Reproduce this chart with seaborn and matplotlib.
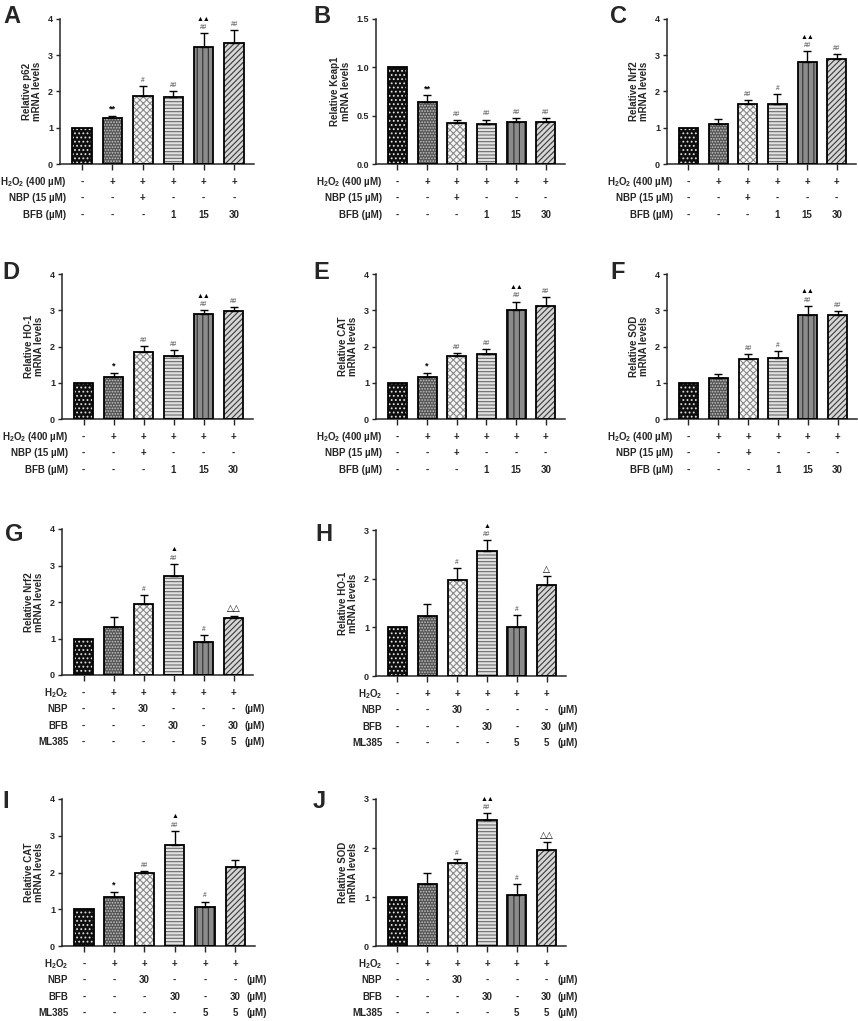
import numpy as np
import pandas as pd
import matplotlib.pyplot as plt
import seaborn as sns
from matplotlib.patches import Rectangle

sns.set_style("ticks")
plt.rcParams["font.family"] = ["Liberation Sans", "DejaVu Sans"]
plt.rcParams["font.weight"] = "bold"
plt.rcParams["mathtext.fontset"] = "custom"
plt.rcParams["mathtext.rm"] = "Liberation Sans:bold"
plt.rcParams["mathtext.bf"] = "Liberation Sans:bold"
plt.rcParams["mathtext.default"] = "rm"
plt.rcParams["hatch.linewidth"] = 0.8

# group names
groups = ["Con", "H2O2", "NBP", "BFB 1", "BFB 15", "BFB 30"]
groups2 = ["Con", "H2O2", "NBP 30", "BFB 30", "ML385", "BFB 30 + ML385"]

# panel A-F : mean and upper error
p62_mean = [1.00, 1.27, 1.87, 1.85, 3.24, 3.33]
p62_err = [0.00, 0.06, 0.27, 0.15, 0.36, 0.37]
keap1_mean = [1.00, 0.64, 0.42, 0.41, 0.43, 0.43]
keap1_err = [0.00, 0.07, 0.035, 0.05, 0.05, 0.045]
nrf2_mean = [1.00, 1.09, 1.66, 1.65, 2.82, 2.89]
nrf2_err = [0.00, 0.15, 0.10, 0.29, 0.29, 0.15]
ho1_mean = [1.00, 1.17, 1.85, 1.73, 2.90, 2.99]
ho1_err = [0.00, 0.10, 0.17, 0.16, 0.10, 0.11]
cat_mean = [1.00, 1.17, 1.73, 1.79, 3.01, 3.12]
cat_err = [0.00, 0.10, 0.09, 0.14, 0.23, 0.24]
sod_mean = [1.00, 1.13, 1.65, 1.67, 2.87, 2.87]
sod_err = [0.00, 0.11, 0.14, 0.20, 0.25, 0.10]

# panel G-J (ML385 experiments)
nrf2_ml_mean = [1.00, 1.32, 1.94, 2.71, 0.90, 1.56]
nrf2_ml_err = [0.00, 0.27, 0.26, 0.34, 0.20, 0.07]
ho1_ml_mean = [1.00, 1.24, 1.98, 2.57, 1.01, 1.88]
ho1_ml_err = [0.00, 0.24, 0.24, 0.22, 0.24, 0.17]
cat_ml_mean = [1.00, 1.33, 2.00, 2.75, 1.05, 2.14]
cat_ml_err = [0.00, 0.15, 0.05, 0.39, 0.16, 0.21]
sod_ml_mean = [1.00, 1.27, 1.70, 2.58, 1.04, 1.96]
sod_ml_err = [0.00, 0.22, 0.07, 0.13, 0.23, 0.17]

# significance marks (lower line and upper line)
p62_sig = ["", "**", "#", "##", "##", "##"]
keap1_sig = ["", "**", "##", "##", "##", "##"]
nrf2_sig = ["", "", "##", "#", "##", "##"]
ho1_sig = ["", "*", "##", "##", "##", "##"]
cat_sig = ["", "*", "##", "##", "##", "##"]
sod_sig = ["", "", "##", "#", "##", "##"]
bfb15_up = ["", "", "", "", "▲▲", ""]
no_up = ["", "", "", "", "", ""]
nrf2_ml_sig = ["", "", "#", "##", "#", "△△"]
ho1_ml_sig = ["", "", "#", "##", "#", "△"]
cat_ml_sig = ["", "*", "##", "##", "#", ""]
sod_ml_sig = ["", "", "#", "##", "#", "△△"]
bfb30_up1 = ["", "", "", "▲", "", ""]
bfb30_up2 = ["", "", "", "▲▲", "", ""]

# treatment tables
h2o2_row = ["-", "+", "+", "+", "+", "+"]
nbp_row = ["-", "-", "+", "-", "-", "-"]
bfb_row = ["-", "-", "-", "1", "15", "30"]
row_labels = [r"H$_2$O$_2$ (400 µM)", "NBP (15 µM)", "BFB (µM)"]

h2o2_row2 = ["-", "+", "+", "+", "+", "+"]
nbp_row2 = ["-", "-", "30", "-", "-", "-"]
bfb_row2 = ["-", "-", "-", "30", "-", "30"]
ml385_row2 = ["-", "-", "-", "-", "5", "5"]
row_labels2 = [r"H$_2$O$_2$", "NBP", "BFB", "ML385"]

# bar styles: face colour, hatch, hatch colour
faces = ["#0e0e0e", "#555555", "#f6f6f6", "#e2e2e2", "#8c8c8c", "#d6d6d6"]
hatches = ["....", "......", "xxxxx", "-----", "|||", "//////"]
hatch_cols = ["#dcdcdc", "#c4c4c4", "#8a8a8a", "#6a6a6a", "#2e2e2e", "#3a3a3a"]

W, H = 858, 1021
fig = plt.figure(figsize=(W / 100, H / 100), dpi=100)


def px_axes(left, top, right, bottom):
    return fig.add_axes([left / W, 1 - bottom / H, (right - left) / W, (bottom - top) / H])


def draw_panel(ax, names, means, errs, sig, up, ylabel, ymax, yticks, yfmt="{:.0f}"):
    df = pd.DataFrame({"group": names, "value": means})
    sns.barplot(data=df, x="group", y="value", hue="group", palette=faces,
                legend=False, errorbar=None, width=0.64, linewidth=0, ax=ax)
    for cont, hc, ht in zip(ax.containers, hatch_cols, hatches):
        for bar in cont:
            bar.set_edgecolor(hc)
            bar.set_hatch(ht)
            bar.set_linewidth(0)
            ax.add_patch(Rectangle(bar.get_xy(), bar.get_width(), bar.get_height(),
                                   fill=False, ec="black", lw=1.3, zorder=3))
    xs = np.arange(len(means))
    errs = np.array(errs)
    m = errs > 0
    ax.errorbar(xs[m], np.array(means)[m], yerr=[np.zeros(m.sum()), errs[m]],
                fmt="none", ecolor="black", elinewidth=1.0, capsize=3.2,
                capthick=1.0, zorder=2)
    for x, mu, e, s, u in zip(xs, means, errs, sig, up):
        top = mu + e
        if s:
            col = "#777777" if "#" in s else "black"
            fs = 4.8 if "#" in s else 6.5
            ax.annotate(s, (x, top), xytext=(0, 1.5), textcoords="offset points",
                        ha="center", va="bottom", fontsize=fs, color=col,
                        annotation_clip=False)
        if u:
            ax.annotate(u, (x, top), xytext=(0, 7.5), textcoords="offset points",
                        ha="center", va="bottom", fontsize=5, color="black",
                        annotation_clip=False)
    ax.set_xlim(-0.72, 5.65)
    ax.set_ylim(0, ymax)
    ax.set_yticks(yticks)
    ax.set_yticklabels([yfmt.format(t) for t in yticks])
    ax.set_xticks(xs)
    ax.set_xticklabels([])
    ax.set_xlabel("")
    ax.set_ylabel(ylabel, fontsize=7, fontweight="bold", labelpad=4, linespacing=1.05)
    for side in ["top", "right"]:
        ax.spines[side].set_visible(False)
    for side in ["left", "bottom"]:
        ax.spines[side].set_linewidth(1.1)
    ax.tick_params(axis="y", length=3, width=1, labelsize=6.5, pad=2)
    ax.tick_params(axis="x", length=4.5, width=1)


def draw_table(ax, rows, labels, units=None):
    for i, (row, lab) in enumerate(zip(rows, labels)):
        dy = -(18 + 16.3 * i) * 0.72
        ax.annotate(lab, (0, 0), xycoords="axes fraction", xytext=(4.5, dy),
                    textcoords="offset points", ha="right", va="center",
                    fontsize=7, fontweight="bold", annotation_clip=False)
        for x, val in enumerate(row):
            ax.annotate(val, (x, 0), xycoords=ax.get_xaxis_transform(), xytext=(0, dy),
                        textcoords="offset points", ha="center", va="center",
                        fontsize=7, fontweight="bold", annotation_clip=False)
        if units and units[i]:
            ax.annotate(units[i], (5.38, 0), xycoords=ax.get_xaxis_transform(),
                        xytext=(0, dy), textcoords="offset points", ha="left",
                        va="center", fontsize=7, fontweight="bold",
                        annotation_clip=False)


ticks4 = [0, 1, 2, 3, 4]
ticks3 = [0, 1, 2, 3]
table1 = [h2o2_row, nbp_row, bfb_row]
table2 = [h2o2_row2, nbp_row2, bfb_row2, ml385_row2]
units2 = ["", "(µM)", "(µM)", "(µM)"]

# row 1
ax = px_axes(60, 19, 254, 164)
draw_panel(ax, groups, p62_mean, p62_err, p62_sig, bfb15_up, "Relative p62\nmRNA levels", 4, ticks4)
draw_table(ax, table1, row_labels)
ax = px_axes(376, 19, 565, 164)
draw_panel(ax, groups, keap1_mean, keap1_err, keap1_sig, no_up, "Relative Keap1\nmRNA levels",
           1.5, [0, 0.5, 1.0, 1.5], "{:.1f}")
draw_table(ax, table1, row_labels)
ax = px_axes(667, 19, 856, 164)
draw_panel(ax, groups, nrf2_mean, nrf2_err, nrf2_sig, bfb15_up, "Relative Nrf2\nmRNA levels", 4, ticks4)
draw_table(ax, table1, row_labels)

# row 2
ax = px_axes(62, 274, 253, 419)
draw_panel(ax, groups, ho1_mean, ho1_err, ho1_sig, bfb15_up, "Relative HO-1\nmRNA levels", 4, ticks4)
draw_table(ax, table1, row_labels)
ax = px_axes(376, 274, 565, 419)
draw_panel(ax, groups, cat_mean, cat_err, cat_sig, bfb15_up, "Relative CAT\nmRNA levels", 4, ticks4)
draw_table(ax, table1, row_labels)
ax = px_axes(667, 274, 857, 419)
draw_panel(ax, groups, sod_mean, sod_err, sod_sig, bfb15_up, "Relative SOD\nmRNA levels", 4, ticks4)
draw_table(ax, table1, row_labels)

# row 3
ax = px_axes(62, 529, 253, 675)
draw_panel(ax, groups2, nrf2_ml_mean, nrf2_ml_err, nrf2_ml_sig, bfb30_up1, "Relative Nrf2\nmRNA levels", 4, ticks4)
draw_table(ax, table2, row_labels2, units2)
ax = px_axes(376, 530, 566, 676)
draw_panel(ax, groups2, ho1_ml_mean, ho1_ml_err, ho1_ml_sig, bfb30_up1, "Relative HO-1\nmRNA levels", 3, ticks3)
draw_table(ax, table2, row_labels2, units2)

# row 4
ax = px_axes(62, 799, 255, 946)
draw_panel(ax, groups2, cat_ml_mean, cat_ml_err, cat_ml_sig, bfb30_up1, "Relative CAT\nmRNA levels", 4, ticks4)
draw_table(ax, table2, row_labels2, units2)
ax = px_axes(376, 799, 566, 946)
draw_panel(ax, groups2, sod_ml_mean, sod_ml_err, sod_ml_sig, bfb30_up2, "Relative SOD\nmRNA levels", 3, ticks3)
draw_table(ax, table2, row_labels2, units2)

# panel letters
letters = ["A", "B", "C", "D", "E", "F", "G", "H", "I", "J"]
letter_px = [(3, 5), (313, 5), (610, 5), (2, 261), (313, 261), (610, 261),
             (5, 523), (315, 523), (2, 790), (313, 790)]
for lt, (lx, ly) in zip(letters, letter_px):
    fig.text(lx / W, 1 - ly / H, lt, fontsize=17, fontweight="bold", ha="left", va="top")

fig.savefig("out.png", dpi=100)
